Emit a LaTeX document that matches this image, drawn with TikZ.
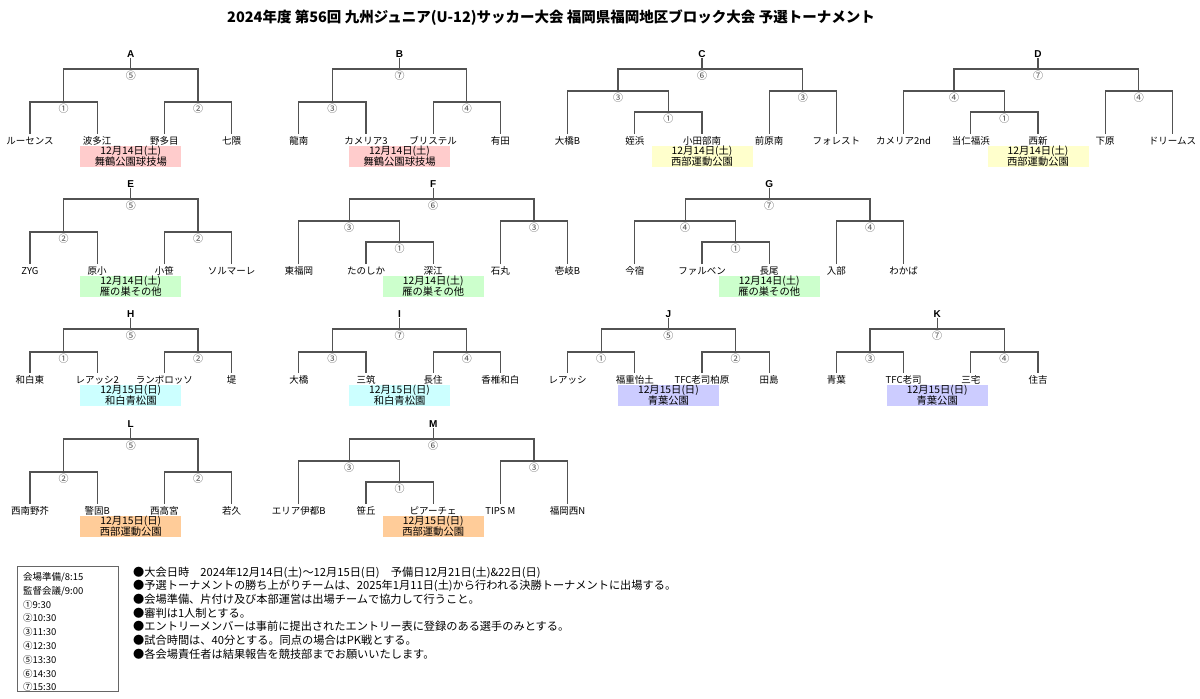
\documentclass[tikz,border=0pt]{standalone}
\usepackage{fontspec}
\setmainfont{Noto Sans CJK JP}
\newfontfamily\latf{Liberation Sans}
\definecolor{vpink}{HTML}{FFCCCC}
\definecolor{vyellow}{HTML}{FFFFCC}
\definecolor{vgreen}{HTML}{CCFFCC}
\definecolor{vcyan}{HTML}{CCFFFF}
\definecolor{vlav}{HTML}{CCCCFF}
\definecolor{vorange}{HTML}{FFCC99}
\tikzset{
  br/.style={draw=black!68, line width=1.3pt},
  team/.style={font=\fontsize{9.5}{10}\selectfont, inner sep=0pt, anchor=base},
  num/.style={font=\fontsize{10}{10}\selectfont, inner sep=0pt, text=black!70},
  grp/.style={font=\latf\bfseries\fontsize{10}{11}\selectfont, inner sep=0pt, anchor=base},
  venue/.style={minimum width=101pt, minimum height=21.5pt, inner sep=0pt, align=center, font=\fontsize{10.3}{10.8}\selectfont},
  note/.style={font=\fontsize{11.2}{12}\selectfont, inner sep=0pt, anchor=base west},
  leg/.style={font=\fontsize{9.5}{10}\selectfont, inner sep=0pt, anchor=base west},
}
% teams: id, first column, list
\newcommand{\teams}[3]{%
  \foreach \t [count=\i from 0] in {#3} {\node[team] (#1-t\i) at ({30+67.2*(#2+\i)},\rL+10.5) {\t};}%
}
% four-team bracket: id col topnum leftnum rightnum color date place
\newcommand{\brfour}[8]{%
  \pgfmathsetmacro{\pA}{30+67.2*#2}%
  \pgfmathsetmacro{\pB}{\pA+67.2}%
  \pgfmathsetmacro{\pC}{\pA+134.4}%
  \pgfmathsetmacro{\pD}{\pA+201.6}%
  \pgfmathsetmacro{\pL}{(\pA+\pB)/2}%
  \pgfmathsetmacro{\pR}{(\pC+\pD)/2}%
  \pgfmathsetmacro{\pM}{(\pB+\pC)/2}%
  \node[grp] (#1) at (\pM,\rT-12) {#1};
  \coordinate (#1-top) at (\pM,\rT);
  \coordinate (#1-jl) at (\pL,\rT);
  \coordinate (#1-jr) at (\pR,\rT);
  \coordinate (#1-sl) at (\pL,\rS);
  \coordinate (#1-sr) at (\pR,\rS);
  \coordinate (#1-b0) at (\pA,\rL);
  \coordinate (#1-b1) at (\pB,\rL);
  \coordinate (#1-b2) at (\pC,\rL);
  \coordinate (#1-b3) at (\pD,\rL);
  \draw[br, shorten <=1pt] (#1.south) -- (#1-top);
  \draw[br] (#1-sl) -- (#1-jl) -- (#1-jr) -- (#1-sr);
  \draw[br] (#1-b0) |- (#1-sl) -| (#1-b1);
  \draw[br] (#1-b2) |- (#1-sr) -| (#1-b3);
  \node[num] (#1-n0) at (\pM,\rT+7) {#3};
  \node[num] (#1-n1) at (\pL,\rS+6.5) {#4};
  \node[num] (#1-n2) at (\pR,\rS+6.5) {#5};
  \node[venue, fill=#6] (#1-v) at (\pM,\rL+22.5) {#7\\#8};
}
% five-team bracket: id col topnum leftnum innernum rightnum color date place
\newcommand{\brfive}[9]{%
  \pgfmathsetmacro{\pA}{30+67.2*#2}%
  \pgfmathsetmacro{\pB}{\pA+67.2}%
  \pgfmathsetmacro{\pC}{\pA+134.4}%
  \pgfmathsetmacro{\pD}{\pA+201.6}%
  \pgfmathsetmacro{\pE}{\pA+268.8}%
  \pgfmathsetmacro{\pI}{(\pB+\pC)/2}%
  \pgfmathsetmacro{\pL}{(\pA+\pI)/2}%
  \pgfmathsetmacro{\pR}{(\pD+\pE)/2}%
  \pgfmathsetmacro{\pM}{\pC}%
  \node[grp] (#1) at (\pM,\rT-12) {#1};
  \coordinate (#1-top) at (\pM,\rT);
  \coordinate (#1-jl) at (\pL,\rT);
  \coordinate (#1-jr) at (\pR,\rT);
  \coordinate (#1-sl) at (\pL,\rSf);
  \coordinate (#1-sr) at (\pR,\rSf);
  \coordinate (#1-ij) at (\pI,\rSf);
  \coordinate (#1-ii) at (\pI,\rI);
  \coordinate (#1-b0) at (\pA,\rL);
  \coordinate (#1-b1) at (\pB,\rL);
  \coordinate (#1-b2) at (\pC,\rL);
  \coordinate (#1-b3) at (\pD,\rL);
  \coordinate (#1-b4) at (\pE,\rL);
  \draw[br, shorten <=1pt] (#1.south) -- (#1-top);
  \draw[br] (#1-sl) -- (#1-jl) -- (#1-jr) -- (#1-sr);
  \draw[br] (#1-b0) |- (#1-ij) -- (#1-ii);
  \draw[br] (#1-b1) |- (#1-ii) -| (#1-b2);
  \draw[br] (#1-b3) |- (#1-sr) -| (#1-b4);
  \node[num] (#1-n0) at (\pM,\rT+7) {#3};
  \node[num] (#1-n1) at (\pL,\rSf+6.5) {#4};
  \node[num] (#1-n2) at (\pI,\rI+6.5) {#5};
  \node[num] (#1-n3) at (\pR,\rSf+6.5) {#6};
  \node[venue, fill=#7] (#1-v) at (\pM,\rL+22.5) {#8\\#9};
}
\begin{document}
\begin{tikzpicture}[x=1pt,y=-1pt]
\fill[white] (0,0) rectangle (1200,699);
\useasboundingbox (0,0) rectangle (1200,699);

\node[font=\bfseries\fontsize{14.5}{16}\selectfont, inner sep=0pt] (title) at (551,18) {2024年度 第56回 九州ジュニア(U-12)サッカー大会 福岡県福岡地区ブロック大会 予選トーナメント};

% ---- row 1
\def\rT{69}\def\rS{102}\def\rSf{91}\def\rI{112}\def\rL{134}
\brfour{A}{0}{⑤}{①}{②}{vpink}{12月14日(土)}{舞鶴公園球技場}
\teams{A}{0}{ルーセンス,波多江,野多目,七隈}
\brfour{B}{4}{⑦}{③}{④}{vpink}{12月14日(土)}{舞鶴公園球技場}
\teams{B}{4}{龍南,カメリア3,ブリステル,有田}
\brfive{C}{8}{⑥}{③}{①}{③}{vyellow}{12月14日(土)}{西部運動公園}
\teams{C}{8}{大橋B,姪浜,小田部南,前原南,フォレスト}
\brfive{D}{13}{⑦}{④}{①}{④}{vyellow}{12月14日(土)}{西部運動公園}
\teams{D}{13}{カメリア2nd,当仁福浜,西新,下原,ドリームス}

% ---- row 2
\def\rT{199}\def\rS{232}\def\rSf{221}\def\rI{242}\def\rL{264}
\brfour{E}{0}{⑤}{②}{②}{vgreen}{12月14日(土)}{雁の巣その他}
\teams{E}{0}{ZYG,原小,小笹,ソルマーレ}
\brfive{F}{4}{⑥}{③}{①}{③}{vgreen}{12月14日(土)}{雁の巣その他}
\teams{F}{4}{東福岡,たのしか,深江,石丸,壱岐B}
\brfive{G}{9}{⑦}{④}{①}{④}{vgreen}{12月14日(土)}{雁の巣その他}
\teams{G}{9}{今宿,ファルベン,長尾,入部,わかば}

% ---- row 3
\def\rT{329}\def\rS{352}\def\rL{373}
\brfour{H}{0}{⑤}{①}{②}{vcyan}{12月15日(日)}{和白青松園}
\teams{H}{0}{和白東,レアッシ2,ランボロッソ,堤}
\brfour{I}{4}{⑦}{③}{④}{vcyan}{12月15日(日)}{和白青松園}
\teams{I}{4}{大橋,三筑,長住,香椎和白}
\brfour{J}{8}{⑤}{①}{②}{vlav}{12月15日(日)}{青葉公園}
\teams{J}{8}{レアッシ,福重怡土,TFC老司柏原,田島}
\brfour{K}{12}{⑦}{③}{④}{vlav}{12月15日(日)}{青葉公園}
\teams{K}{12}{青葉,TFC老司,三宅,住吉}

% ---- row 4
\def\rT{439}\def\rS{472}\def\rSf{461}\def\rI{482}\def\rL{504}
\brfour{L}{0}{⑤}{②}{②}{vorange}{12月15日(日)}{西部運動公園}
\teams{L}{0}{西南野芥,警固B,西高宮,若久}
\brfive{M}{4}{⑥}{③}{①}{③}{vorange}{12月15日(日)}{西部運動公園}
\teams{M}{4}{エリア伊都B,笹丘,ピアーチェ,TIPS M,福岡西N}

% ---- legend
\node[draw=black!60, line width=0.8pt, minimum width=101pt, minimum height=125pt, inner sep=0pt, anchor=north west] (legend) at (17,566) {};
\foreach \s [count=\k from 0] in {会場準備/8:15,監督会議/9:00,①9:30,②10:30,③11:30,④12:30,⑤13:30,⑥14:30,⑦15:30}
  \node[leg] (leg\k) at (23,{580.5+13.8*\k}) {\s};

% ---- notes
\node[note] (note1) at (133,576) {●大会日時　2024年12月14日(土)～12月15日(日)　予備日12月21日(土)\&22日(日)};
\node[note] (note2) at (133,589.7) {●予選トーナメントの勝ち上がりチームは、2025年1月11日(土)から行われる決勝トーナメントに出場する。};
\node[note] (note3) at (133,603.4) {●会場準備、片付け及び本部運営は出場チームで協力して行うこと。};
\node[note] (note4) at (133,617.1) {●審判は1人制とする。};
\node[note] (note5) at (133,630.8) {●エントリーメンバーは事前に提出されたエントリー表に登録のある選手のみとする。};
\node[note] (note6) at (133,644.5) {●試合時間は、40分とする。同点の場合はPK戦とする。};
\node[note] (note7) at (133,658.2) {●各会場責任者は結果報告を競技部までお願いいたします。};
\end{tikzpicture}
\end{document}
